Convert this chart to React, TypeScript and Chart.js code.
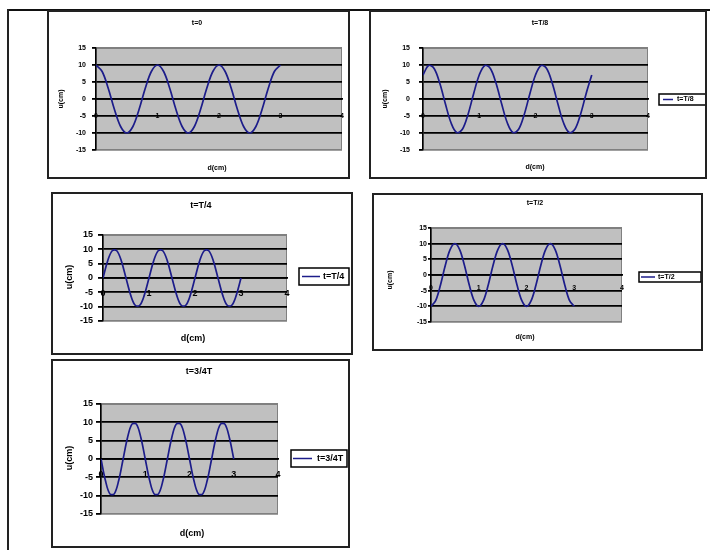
import React, { useEffect, useRef } from "react";
import { Chart, registerables } from "chart.js";
Chart.register(...registerables);

// d (cm)
const XS = [0, 0.1, 0.2, 0.3, 0.4, 0.5, 0.6, 0.7, 0.8, 0.9, 1, 1.1, 1.2, 1.3, 1.4, 1.5, 1.6, 1.7, 1.8, 1.9, 2, 2.1, 2.2, 2.3, 2.4, 2.5, 2.6, 2.7, 2.8, 2.9, 3];

// u (cm) for each instant
const U_T0 = [10, 8.09, 3.09, -3.09, -8.09, -10, -8.09, -3.09, 3.09, 8.09, 10, 8.09, 3.09, -3.09, -8.09, -10, -8.09, -3.09, 3.09, 8.09, 10, 8.09, 3.09, -3.09, -8.09, -10, -8.09, -3.09, 3.09, 8.09, 10];
const U_T8 = [7.07, 9.88, 8.91, 4.54, -1.56, -7.07, -9.88, -8.91, -4.54, 1.56, 7.07, 9.88, 8.91, 4.54, -1.56, -7.07, -9.88, -8.91, -4.54, 1.56, 7.07, 9.88, 8.91, 4.54, -1.56, -7.07, -9.88, -8.91, -4.54, 1.56, 7.07];
const U_T4 = [0, 5.88, 9.51, 9.51, 5.88, 0, -5.88, -9.51, -9.51, -5.88, 0, 5.88, 9.51, 9.51, 5.88, 0, -5.88, -9.51, -9.51, -5.88, 0, 5.88, 9.51, 9.51, 5.88, 0, -5.88, -9.51, -9.51, -5.88, 0];
const U_T2 = [-10, -8.09, -3.09, 3.09, 8.09, 10, 8.09, 3.09, -3.09, -8.09, -10, -8.09, -3.09, 3.09, 8.09, 10, 8.09, 3.09, -3.09, -8.09, -10, -8.09, -3.09, 3.09, 8.09, 10, 8.09, 3.09, -3.09, -8.09, -10];
const U_3T4 = [0, -5.88, -9.51, -9.51, -5.88, 0, 5.88, 9.51, 9.51, 5.88, 0, -5.88, -9.51, -9.51, -5.88, 0, 5.88, 9.51, 9.51, 5.88, 0, -5.88, -9.51, -9.51, -5.88, 0, 5.88, 9.51, 9.51, 5.88, 0];

const TITLES = ["t=0", "t=T/8", "t=T/4", "t=T/2", "t=3/4T"];
const X_TITLE = "d(cm)";
const Y_TITLE = "u(cm)";
const Y_MIN = -15, Y_MAX = 15, Y_STEP = 5;
const X_MIN = 0, X_MAX = 4, X_STEP = 1;

const FONT = "'Liberation Sans', Arial, sans-serif";
const LINE_COLOR = "#1c1c8a";

type Spec = {
  box: [number, number, number, number];
  pad: [number, number, number, number];
  data: number[];
  title: string;
  titlePos: [number, number];
  xtPos: [number, number];
  ytPos: [number, number];
  legend: null | { rect: [number, number, number, number]; line: [number, number]; textX: number };
  fs: number;
  xLabelPad: number;
  yTick: number;
  yPad: number;
};

const SPECS: Spec[] = [
  { box: [47, 10, 303, 169], pad: [49, 38, 8, 29], data: U_T0, title: TITLES[0], titlePos: [150, 13], xtPos: [170, 158], ytPos: [14, 89], legend: null, fs: 7, xLabelPad: 5, yTick: 4, yPad: 6 },
  { box: [369, 10, 338, 169], pad: [54, 38, 59, 29], data: U_T8, title: TITLES[1], titlePos: [171, 13], xtPos: [166, 157], ytPos: [16, 89], legend: { rect: [290, 84, 337, 95], line: [294, 304], textX: 308 }, fs: 7, xLabelPad: 5, yTick: 4, yPad: 9 },
  { box: [51, 192, 302, 163], pad: [52, 43, 66, 34], data: U_T4, title: TITLES[2], titlePos: [150, 14], xtPos: [142, 147], ytPos: [19, 85], legend: { rect: [248, 76, 298, 93], line: [251, 269], textX: 272 }, fs: 9, xLabelPad: 2, yTick: 5, yPad: 5 },
  { box: [372, 193, 331, 158], pad: [59, 35, 81, 29], data: U_T2, title: TITLES[3], titlePos: [163, 10], xtPos: [153, 144], ytPos: [18, 87], legend: { rect: [267, 79, 329, 89], line: [269, 283], textX: 286 }, fs: 7, xLabelPad: 1, yTick: 3, yPad: 1 },
  { box: [51, 359, 299, 189], pad: [50, 45, 72, 34], data: U_3T4, title: TITLES[4], titlePos: [148, 13], xtPos: [141, 175], ytPos: [19, 99], legend: { rect: [240, 91, 296, 108], line: [242, 261], textX: 266 }, fs: 9, xLabelPad: 2, yTick: 5, yPad: 3 },
];

function makeDeco(spec: Spec) {
  return {
    id: "deco",
    beforeDraw(chart: any) {
      const { ctx, chartArea: a } = chart;
      ctx.save();
      ctx.fillStyle = "#ffffff";
      ctx.fillRect(0, 0, chart.width, chart.height);
      ctx.fillStyle = "#c0c0c0";
      ctx.fillRect(a.left, a.top, a.right - a.left, a.bottom - a.top);
      ctx.strokeStyle = "#808080";
      ctx.lineWidth = 1;
      ctx.strokeRect(a.left + 0.5, a.top + 0.5, a.right - a.left - 1, a.bottom - a.top - 1);
      ctx.restore();
    },
    afterDraw(chart: any) {
      const { ctx } = chart;
      const fs = spec.fs;
      ctx.save();
      ctx.fillStyle = "#000";
      ctx.textAlign = "center";
      ctx.textBaseline = "middle";
      ctx.font = `bold ${fs}px ${FONT}`;
      ctx.fillText(spec.title, spec.titlePos[0], spec.titlePos[1]);
      ctx.fillText(X_TITLE, spec.xtPos[0], spec.xtPos[1]);
      ctx.save();
      ctx.translate(spec.ytPos[0], spec.ytPos[1]);
      ctx.rotate(-Math.PI / 2);
      ctx.fillText(Y_TITLE, 0, 0);
      ctx.restore();
      if (spec.legend) {
        const [x1, y1, x2, y2] = spec.legend.rect;
        ctx.strokeStyle = "#000";
        ctx.lineWidth = 1.5;
        ctx.strokeRect(x1, y1, x2 - x1, y2 - y1);
        const my = (y1 + y2) / 2;
        ctx.strokeStyle = LINE_COLOR;
        ctx.lineWidth = 1.5;
        ctx.beginPath();
        ctx.moveTo(spec.legend.line[0], my);
        ctx.lineTo(spec.legend.line[1], my);
        ctx.stroke();
        ctx.textAlign = "left";
        ctx.fillText(spec.title, spec.legend.textX, my);
      }
      ctx.restore();
    },
  };
}

function MiniChart({ spec }: { spec: Spec }) {
  const ref = useRef<HTMLCanvasElement>(null);
  useEffect(() => {
    const [pl, pt, pr, pb] = spec.pad;
    const font = { family: FONT, size: spec.fs, weight: "bold" as const };
    const chart = new Chart(ref.current!, {
      type: "line",
      data: {
        datasets: [
          {
            label: spec.title,
            data: XS.map((x, i) => ({ x, y: spec.data[i] })),
            borderColor: LINE_COLOR,
            borderWidth: 1.7,
            pointRadius: 0,
            tension: 0.35,
            fill: false,
          },
        ],
      },
      options: {
        responsive: false,
        animation: false,
        devicePixelRatio: 1,
        layout: { padding: { left: 0, top: pt, right: pr, bottom: pb } },
        plugins: { legend: { display: false }, title: { display: false }, tooltip: { enabled: false } },
        scales: {
          x: {
            type: "linear",
            position: { y: 0 } as any,
            min: X_MIN,
            max: X_MAX,
            ticks: { stepSize: X_STEP, autoSkip: false, maxRotation: 0, color: "#000", font, padding: spec.xLabelPad },
            grid: { display: false },
            border: { display: true, color: "#000", width: 1.8 },
          },
          y: {
            type: "linear",
            min: Y_MIN,
            max: Y_MAX,
            afterFit: (s: any) => {
              s.width = pl;
            },
            ticks: { stepSize: Y_STEP, color: "#000", font, padding: spec.yPad },
            grid: {
              color: (c: any) => (c.tick && Math.abs(c.tick.value) === 15 ? "#808080" : "#000"),
              tickColor: "#000",
              lineWidth: 1.8,
              tickLength: spec.yTick,
            },
            border: { display: true, color: "#000", width: 1.5 },
          },
        },
      },
      plugins: [makeDeco(spec)],
    });
    return () => chart.destroy();
  }, [spec]);
  const [L, T, W, H] = spec.box;
  return (
    <>
      <canvas ref={ref} width={W} height={H} style={{ position: "absolute", left: L, top: T, width: W, height: H }} />
      <div
        style={{
          position: "absolute",
          left: L,
          top: T,
          width: W,
          height: H,
          boxSizing: "border-box",
          border: "2px solid #222",
          pointerEvents: "none",
        }}
      />
    </>
  );
}

export default function App() {
  return (
    <div style={{ position: "absolute", left: 0, top: 0, width: 710, height: 550, background: "#fff", overflow: "hidden" }}>
      <div style={{ position: "absolute", left: 7, top: 9, width: 703, height: 2, background: "#111" }} />
      <div style={{ position: "absolute", left: 7, top: 9, width: 2, height: 541, background: "#222" }} />
      {SPECS.map((s, i) => (
        <MiniChart key={i} spec={s} />
      ))}
    </div>
  );
}
